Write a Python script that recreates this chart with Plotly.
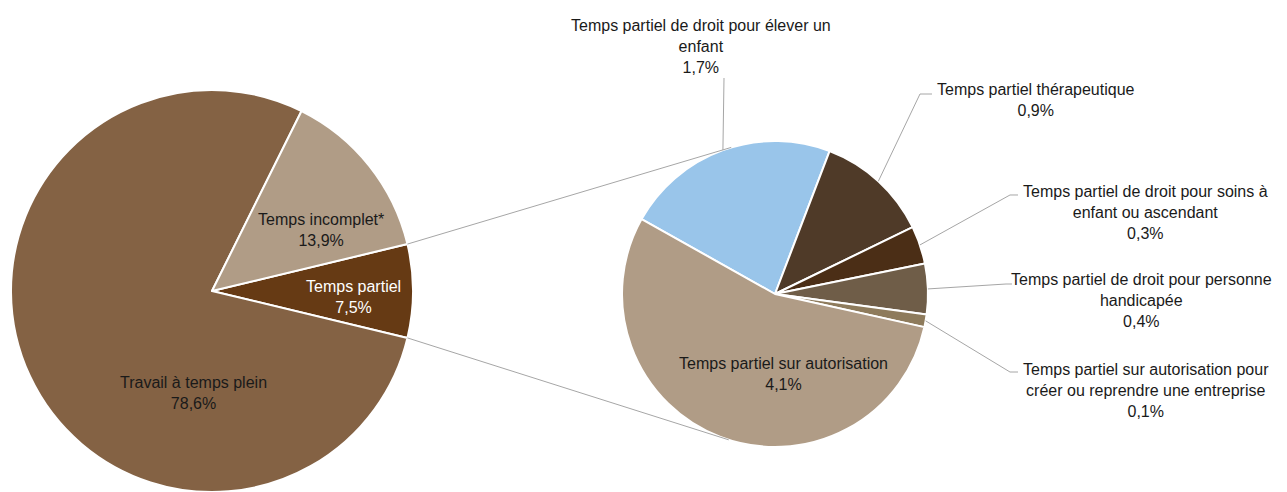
import math
import plotly.graph_objects as go

# ---- data -------------------------------------------------------------
# main pie (share of all agents, %)
main_labels = ["Temps partiel", "Travail à temps plein", "Temps incomplet*"]
main_values = [7.5, 78.6, 13.9]

# breakdown of "Temps partiel" (%), clockwise order
sub_labels = [
    "Temps partiel de droit pour élever un<br>enfant",
    "Temps partiel thérapeutique",
    "Temps partiel de droit pour soins à<br>enfant ou ascendant",
    "Temps partiel de droit pour personne<br>handicapée",
    "Temps partiel sur autorisation pour<br>créer ou reprendre une entreprise",
    "Temps partiel sur autorisation",
]
sub_values = [1.7, 0.9, 0.3, 0.4, 0.1, 4.1]

# ---- styling / layout --------------------------------------------------
W, H = 1287, 492
FONT = "Arial, Liberation Sans, sans-serif"
GREY = "#A6A6A6"

main_colors = ["#663A14", "#846244", "#B09C86"]
main_text_colors = ["white", "#1a1a1a", "#1a1a1a"]
sub_colors = ["#99C5EA", "#4F3A28", "#4B2E16", "#6F5D48", "#8E7B5C", "#B09C86"]

# pie boxes in pixels: (left, top, right, bottom)
main_box = (8, 90, 416, 492)
sub_box = (622, 141, 928, 447)
main_rotation = 90 - main_values[0] / sum(main_values) * 180
sub_rotation = 299.3

# label centres (px) for the main pie and the inside sub label
main_label_pos = [(353, 297), (193, 393), (321, 230)]
sub_inside_pos = (783, 374)
# outside sub labels: centre (px) and leader line elbow/end points (px)
sub_label_pos = [(701, 46), (1036, 100), (1145, 212), (1141, 300), (1146, 390)]
sub_leader_pts = [
    [(724, 78)],
    [(920, 94), (932, 94)],
    [(1010, 195), (1018, 195)],
    [(1006, 284), (1012, 284)],
    [(1010, 372), (1018, 372)],
]


def fmt(v):
    return f"{v:.1f}".replace(".", ",") + "%"


def to_paper(x, y):
    return x / W, 1 - y / H


def domain(box):
    l, t, r, b = box
    return dict(x=[l / W, r / W], y=[1 - b / H, 1 - t / H])


def geometry(box):
    l, t, r, b = box
    return (l + r) / 2, (t + b) / 2, min(r - l, b - t) / 2


def point(cx, cy, r, ang):
    a = math.radians(ang)
    return cx + r * math.sin(a), cy - r * math.cos(a)


def slice_angles(values, rotation):
    tot = sum(values)
    out, cur = [], rotation
    for v in values:
        span = v / tot * 360
        out.append((cur, cur + span))
        cur += span
    return out


fig = go.Figure()
fig.add_trace(go.Pie(
    labels=main_labels, values=main_values, sort=False, direction="clockwise",
    rotation=main_rotation, domain=domain(main_box), textinfo="none",
    marker=dict(colors=main_colors, line=dict(color="white", width=2)),
    showlegend=False, hoverinfo="label+percent",
))
fig.add_trace(go.Pie(
    labels=[l.replace("<br>", " ") for l in sub_labels], values=sub_values,
    sort=False, direction="clockwise", rotation=sub_rotation,
    domain=domain(sub_box), textinfo="none",
    marker=dict(colors=sub_colors, line=dict(color="white", width=2)),
    showlegend=False, hoverinfo="label+value",
))

shapes, annotations = [], []


def path(points):
    d = ""
    for i, (x, y) in enumerate(points):
        px, py = to_paper(x, y)
        d += ("M" if i == 0 else " L") + f" {px:.5f},{py:.5f}"
    return d


# connectors between the "Temps partiel" slice and the breakdown pie
mcx, mcy, mr = geometry(main_box)
scx, scy, sr = geometry(sub_box)
a0, a1 = slice_angles(main_values, main_rotation)[0]
for ang, pick in ((a0, min), (a1, max)):
    px, py = point(mcx, mcy, mr, ang)
    d = math.hypot(px - scx, py - scy)
    phi = math.atan2(py - scy, px - scx)
    alpha = math.acos(sr / d)
    cands = [(scx + sr * math.cos(phi + s * alpha), scy + sr * math.sin(phi + s * alpha))
             for s in (1, -1)]
    tx, ty = pick(cands, key=lambda p: p[1])
    shapes.append(dict(type="path", xref="paper", yref="paper",
                       path=path([(px, py), (tx, ty)]),
                       line=dict(color=GREY, width=1)))

# main pie labels
for lab, val, (x, y), col in zip(main_labels, main_values, main_label_pos, main_text_colors):
    xp, yp = to_paper(x, y)
    annotations.append(dict(x=xp, y=yp, xref="paper", yref="paper",
                            text=f"{lab}<br>{fmt(val)}", showarrow=False,
                            font=dict(family=FONT, size=16, color=col),
                            xanchor="center", yanchor="middle"))

# breakdown labels with leader lines
sub_angles = slice_angles(sub_values, sub_rotation)
for i, (lab, val) in enumerate(zip(sub_labels, sub_values)):
    if i == len(sub_values) - 1:
        x, y = sub_inside_pos
    else:
        x, y = sub_label_pos[i]
        s0, s1 = sub_angles[i]
        start = point(scx, scy, sr, (s0 + s1) / 2)
        shapes.append(dict(type="path", xref="paper", yref="paper",
                           path=path([start] + sub_leader_pts[i]),
                           line=dict(color=GREY, width=1)))
    xp, yp = to_paper(x, y)
    annotations.append(dict(x=xp, y=yp, xref="paper", yref="paper",
                            text=f"{lab}<br>{fmt(val)}", showarrow=False,
                            font=dict(family=FONT, size=16, color="#1a1a1a"),
                            xanchor="center", yanchor="middle"))

fig.update_layout(
    width=W, height=H, margin=dict(l=0, r=0, t=0, b=0),
    paper_bgcolor="white", plot_bgcolor="white",
    shapes=shapes, annotations=annotations,
    font=dict(family=FONT),
)

fig.write_html("out.html")
